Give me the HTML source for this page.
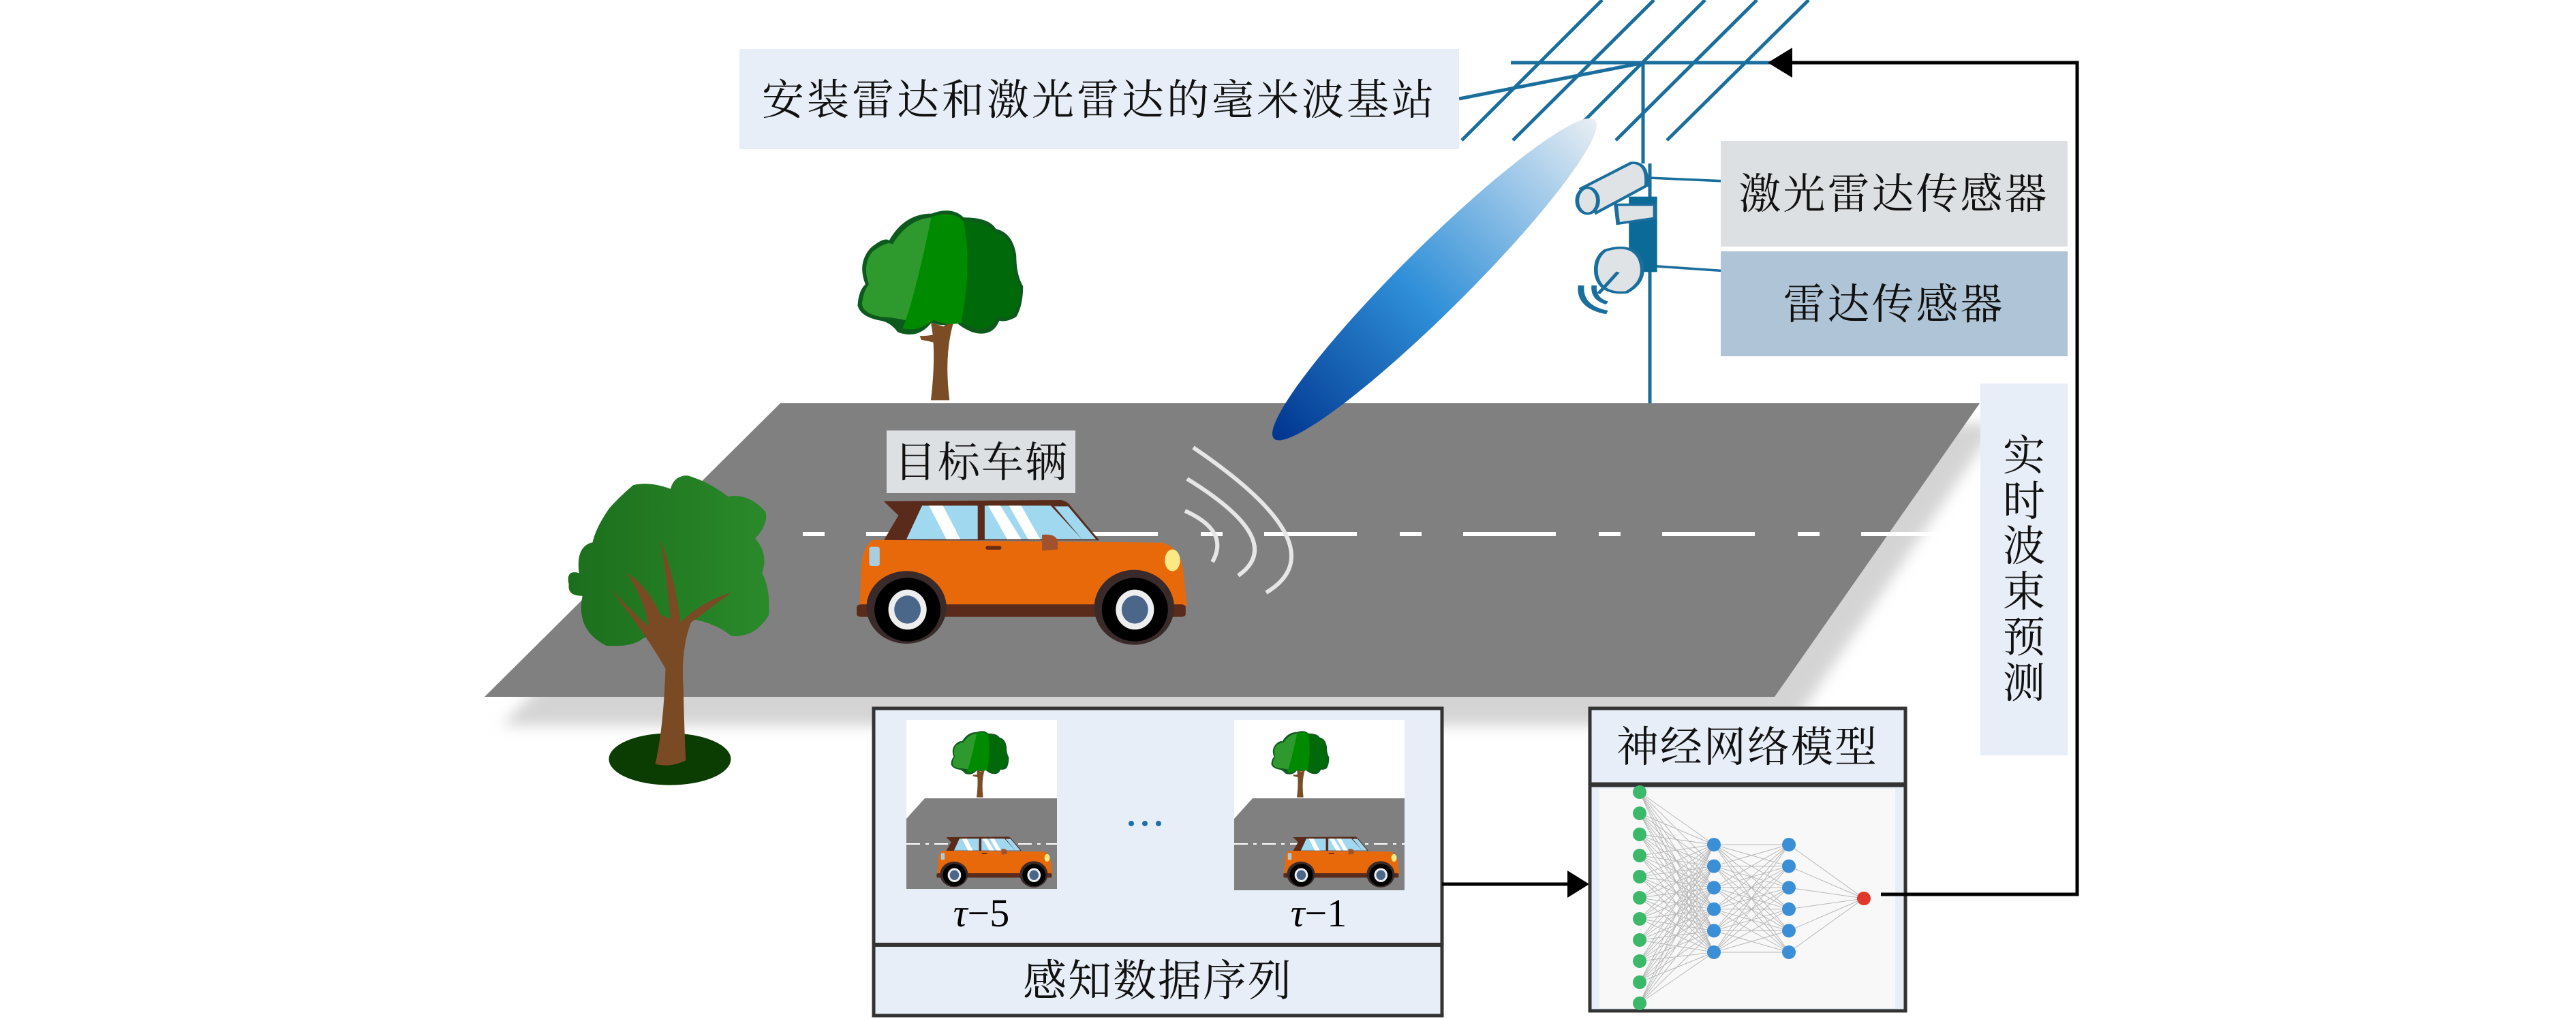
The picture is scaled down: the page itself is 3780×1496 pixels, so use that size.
<!DOCTYPE html>
<html><head><meta charset="utf-8"><style>
html,body{margin:0;padding:0;background:#fff;}
svg{display:block;}
.cj{font-family:"Liberation Serif","Noto Serif CJK SC","Noto Sans CJK SC",serif;fill:#111;}
</style></head><body>
<svg width="3780" height="1496" viewBox="0 0 3780 1496" xmlns="http://www.w3.org/2000/svg">
<defs>
<linearGradient id="beam" x1="0" y1="0" x2="1" y2="0">
<stop offset="0" stop-color="#00358f"/><stop offset="0.45" stop-color="#2f8fd8"/><stop offset="1" stop-color="#e8eef4"/>
</linearGradient>
<linearGradient id="tg2" x1="0" y1="0" x2="1" y2="0">
<stop offset="0" stop-color="#1c6e1c"/><stop offset="1" stop-color="#2a8a2a"/>
</linearGradient>
<filter id="blur" x="-10%" y="-10%" width="120%" height="130%"><feGaussianBlur stdDeviation="10"/></filter>
<clipPath id="c1"><rect x="1330" y="1057" width="221" height="248"/></clipPath>
<clipPath id="c2"><rect x="1811" y="1057" width="250" height="250"/></clipPath>
<g id="car">
<g transform="matrix(0.5102,0,0,0.3333,1200,580)">
<path d="M190,468 L700,462 Q720,470 725,485 L810,640 L190,640 L232,530 Z" fill="#5a2a1a"/>
<polygon points="300,487 460,487 460,635 255,635" fill="#a0d8ef"/>
<polygon points="480,487 670,487 760,635 480,635" fill="#a0d8ef"/>
<polygon points="680,490 720,490 800,635 760,635" fill="#a0d8ef"/>
<polygon points="320,487 360,487 410,635 370,635" fill="#fff"/>
<polygon points="490,487 525,487 585,635 545,635" fill="#fff"/>
<polygon points="550,487 585,487 640,635 605,635" fill="#fff"/>
<path d="M160,638 L990,650 Q1040,670 1050,760 L1062,930 L120,930 L125,760 Q130,660 160,638 Z" fill="#e8690a"/>
<rect x="112" y="922" width="946" height="55" rx="12" fill="#5a2a1a"/>
<ellipse cx="255" cy="935" rx="115" ry="160" fill="#3a2a2a"/>
<ellipse cx="910" cy="935" rx="115" ry="165" fill="#3a2a2a"/>
<ellipse cx="258" cy="945" rx="95" ry="140" fill="#000"/>
<ellipse cx="258" cy="945" rx="55" ry="88" fill="#eee"/>
<ellipse cx="258" cy="945" rx="38" ry="62" fill="#4a6688"/>
<ellipse cx="912" cy="945" rx="95" ry="140" fill="#000"/>
<ellipse cx="912" cy="945" rx="55" ry="88" fill="#eee"/>
<ellipse cx="912" cy="945" rx="38" ry="62" fill="#4a6688"/>
<ellipse cx="1020" cy="728" rx="22" ry="48" fill="#fbe985"/>
<rect x="148" y="668" width="30" height="85" rx="8" fill="#a8cde0"/>
<rect x="483" y="665" width="45" height="16" rx="6" fill="#6b2a14"/>
<path d="M645,615 Q690,610 690,650 L690,680 L645,686 Z" fill="#a0522d"/>
</g>
</g>
<g id="tree1">
<g transform="matrix(0.4974,0,0,0.5612,780,280)">
<path d="M1178,345 Q1195,420 1178,548 L1233,548 Q1215,420 1250,330 L1215,355 Z" fill="#7b4d26"/>
<path d="M1195,375 Q1170,380 1145,380 L1150,390 Q1180,395 1200,400 Z" fill="#7b4d26"/>
<path d="M1000,150 Q1040,120 1055,130 Q1100,60 1180,60 Q1240,40 1275,70 Q1350,70 1370,100 Q1420,110 1430,170 Q1430,220 1450,250 Q1450,300 1430,330 Q1400,345 1380,340 Q1360,385 1300,370 Q1260,355 1250,340 Q1220,360 1180,345 Q1140,390 1080,370 Q1060,345 1030,340 Q970,330 962,300 Q965,260 985,245 Q960,190 1000,150 Z" fill="#0d5a1d"/>
<path d="M1005,160 Q1050,130 1065,140 Q1110,75 1180,70 Q1180,200 1110,340 Q1060,330 1030,330 Q975,320 975,295 Q980,260 995,245 Q975,195 1005,160 Z" fill="#2e9a2e"/>
<path d="M1180,68 Q1240,50 1275,80 Q1300,200 1270,345 Q1230,355 1185,338 Q1140,370 1095,360 Q1130,280 1180,68 Z" fill="#008a00"/>
<path d="M1275,80 Q1345,80 1365,108 Q1415,120 1420,170 Q1420,225 1440,255 Q1440,300 1420,325 Q1390,335 1375,330 Q1355,370 1305,360 Q1270,345 1268,340 Q1300,200 1275,80 Z" fill="#006a0a"/>
</g>
</g>
</defs>

<polygon points="1170,622 2930,622 2630,1065 736,1065" fill="#d4d4d4" filter="url(#blur)"/>
<polygon points="1145,592 2905,592 2604,1023 711,1023" fill="#808080"/>
<line x1="1169" y1="784" x2="2869" y2="784" stroke="#fff" stroke-width="6" stroke-dasharray="136 63 32 61" stroke-dashoffset="190"/>

<g stroke="#1a6e9c" stroke-width="5" fill="none">
<line x1="2351" y1="0" x2="2145" y2="206"/>
<line x1="2427" y1="0" x2="2220" y2="206"/>
<line x1="2502" y1="0" x2="2296" y2="206"/>
<line x1="2578" y1="0" x2="2371" y2="206"/>
<line x1="2654" y1="0" x2="2446" y2="206"/>
<line x1="2217" y1="92" x2="2600" y2="92"/>
<line x1="2141" y1="145" x2="2412" y2="92"/>
<line x1="2411" y1="92" x2="2411" y2="240"/>
<line x1="2421" y1="240" x2="2421" y2="592"/>
</g>

<ellipse cx="2105" cy="410" rx="332" ry="48" fill="url(#beam)" transform="rotate(-44.8 2105 410)"/>

<g transform="matrix(0.6378,0,0,0.3954,2100,0)" stroke="#1a6e9c" stroke-width="9">
<line x1="500" y1="660" x2="667" y2="672"/>
<line x1="485" y1="985" x2="667" y2="1005"/>
<path d="M345,700 L460,605 Q500,600 495,690 L380,790 Z" fill="#dfe3e6"/>
<ellipse cx="360" cy="745" rx="24" ry="48" fill="#dfe3e6"/>
<rect x="455" y="730" width="65" height="280" fill="#0b6a96" stroke="none"/>
<path d="M425,760 L515,760 L515,810 L430,830 Z" fill="#dfe3e6"/>
<path d="M400,930 Q460,900 480,960 Q500,1040 450,1085 Q390,1095 380,1020 Q375,960 400,930 Z" fill="#dfe3e6"/>
<path d="M430,1010 L385,1090" fill="none"/>
<path d="M345,1060 Q340,1140 405,1160" fill="none" stroke-width="14"/>
<path d="M375,1060 Q372,1110 405,1125" fill="none" stroke-width="12"/>
</g>

<g stroke="#e6e6e6" stroke-width="6" fill="none">
<path d="M1739,750 Q1805,780 1779,825"/>
<path d="M1742,703 Q1890,794 1817,845"/>
<path d="M1751,657 Q1968,804 1858,870"/>
</g>

<use href="#tree1"/>
<g transform="matrix(0.4974,0,0,0.5612,780,280)">
<ellipse cx="408" cy="1487" rx="180" ry="68" fill="#0b3d02"/>
<path d="M140,1000 Q100,990 110,1030 Q105,1060 150,1060 Q130,1150 220,1190 Q300,1195 330,1170 Q420,1160 470,1120 Q540,1130 590,1165 Q660,1170 700,1110 Q705,1040 680,1000 Q700,950 660,910 Q700,870 690,840 Q640,790 580,800 Q520,760 460,745 Q420,745 410,780 Q350,760 300,770 Q260,800 230,830 Q190,880 180,920 Q130,930 140,1000 Z" fill="url(#tg2)"/>
<path d="M365,1500 Q390,1400 395,1250 Q330,1150 230,1040 Q320,1120 345,1140 Q330,1060 280,1000 Q340,1030 380,1110 L410,1120 Q400,1020 380,915 Q420,1000 440,1130 Q490,1080 590,1050 Q530,1090 470,1130 Q440,1200 448,1300 Q450,1400 455,1490 Q410,1510 365,1500 Z" fill="#7a4a24"/>
</g>

<use href="#car"/>
<rect x="1301" y="632" width="277" height="92" fill="#dde0e3"/>
<text x="1440" y="700" class="cj" font-size="62" text-anchor="middle" letter-spacing="2">目标车辆</text>

<rect x="1085" y="72" width="1056" height="147" fill="#e8eef8"/>
<text x="1613" y="168" class="cj" font-size="62" text-anchor="middle" letter-spacing="4">安装雷达和激光雷达的毫米波基站</text>

<rect x="2525" y="207" width="509" height="155" fill="#dde0e2"/>
<text x="2779" y="306" class="cj" font-size="62" text-anchor="middle" letter-spacing="3">激光雷达传感器</text>
<rect x="2525" y="369" width="509" height="154" fill="#afc4d6"/>
<text x="2779" y="468" class="cj" font-size="62" text-anchor="middle" letter-spacing="3">雷达传感器</text>

<rect x="2906" y="563" width="128" height="546" fill="#e8eef8"/>
<g class="cj" font-size="62" text-anchor="middle">
<text x="2970" y="690" class="cj">实</text>
<text x="2970" y="757" class="cj">时</text>
<text x="2970" y="823" class="cj">波</text>
<text x="2970" y="890" class="cj">束</text>
<text x="2970" y="957" class="cj">预</text>
<text x="2970" y="1024" class="cj">测</text>
</g>

<polyline points="2773,1313 3048,1313 3048,92 2625,92" fill="none" stroke="#000" stroke-width="5"/>
<polygon points="2594,92 2630,70 2630,114" fill="#000"/>

<rect x="1282" y="1040" width="834" height="451" fill="#e8eef8" stroke="#333" stroke-width="5"/>
<line x1="1282" y1="1387" x2="2116" y2="1387" stroke="#333" stroke-width="6"/>
<text x="1699" y="1462" class="cj" font-size="64" text-anchor="middle" letter-spacing="2">感知数据序列</text>

<g clip-path="url(#c1)">
<rect x="1330" y="1057" width="221" height="248" fill="#fff"/>
<polygon points="1357,1172 1560,1172 1560,1310 1330,1310 1330,1202" fill="#808080"/>
<line x1="1330" y1="1239" x2="1551" y2="1239" stroke="#fff" stroke-width="2" stroke-dasharray="20 8 5 8"/>
<use href="#tree1" transform="translate(955,965) scale(0.35)"/>
<use href="#car" transform="translate(934.4,971.5) scale(0.35)"/>
</g>
<g clip-path="url(#c2)">
<rect x="1811" y="1057" width="250" height="250" fill="#fff"/>
<polygon points="1838,1172 2070,1172 2070,1310 1811,1310 1811,1202" fill="#808080"/>
<line x1="1811" y1="1239" x2="2061" y2="1239" stroke="#fff" stroke-width="2" stroke-dasharray="20 8 5 8"/>
<use href="#tree1" transform="translate(1425,965) scale(0.35)"/>
<use href="#car" transform="translate(1443.4,971.5) scale(0.35)"/>
</g>
<g fill="#1f6fa8"><circle cx="1660" cy="1209" r="4"/><circle cx="1680" cy="1209" r="4"/><circle cx="1700" cy="1209" r="4"/></g>
<text x="1440" y="1360" font-family="Liberation Serif,serif" font-size="58" text-anchor="middle"><tspan font-style="italic">τ</tspan>−5</text>
<text x="1935" y="1360" font-family="Liberation Serif,serif" font-size="58" text-anchor="middle"><tspan font-style="italic">τ</tspan>−1</text>

<line x1="2116" y1="1298" x2="2305" y2="1298" stroke="#000" stroke-width="5"/>
<polygon points="2332,1298 2300,1278 2300,1318" fill="#000"/>

<rect x="2333" y="1040" width="463" height="444" fill="#e8eef8" stroke="#333" stroke-width="5"/>
<line x1="2333" y1="1152" x2="2796" y2="1152" stroke="#333" stroke-width="7"/>
<text x="2564" y="1118" class="cj" font-size="62" text-anchor="middle" letter-spacing="2">神经网络模型</text>
<rect x="2347" y="1158" width="434" height="322" fill="#f8f8f8"/>
<g stroke="#b8b8b8" stroke-width="1">
<path id="nnl" d="" />
</g>
<g id="nn"></g>

<line x1="2760" y1="1313" x2="2800" y2="1313" stroke="#000" stroke-width="5"/>
</svg>
<script>
(function(){
var ns="http://www.w3.org/2000/svg";
var g=document.getElementById("nn");
var inp=[],h1=[],h2=[];
for(var i=0;i<11;i++)inp.push([2406,1163+i*31]);
for(var i=0;i<6;i++){h1.push([2515,1240+i*31.6]);h2.push([2625,1240+i*31.6]);}
var out=[[2735,1319]];
var d="";
function conn(a,b){a.forEach(function(p){b.forEach(function(q){d+="M"+p[0]+" "+p[1]+"L"+q[0]+" "+q[1];});});}
conn(inp,h1);conn(h1,h2);conn(h2,out);
document.getElementById("nnl").setAttribute("d",d);
function dot(p,c){var e=document.createElementNS(ns,"circle");e.setAttribute("cx",p[0]);e.setAttribute("cy",p[1]);e.setAttribute("r",10);e.setAttribute("fill",c);g.appendChild(e);}
inp.forEach(function(p){dot(p,"#3cb86a");});
h1.forEach(function(p){dot(p,"#3a8fd6");});
h2.forEach(function(p){dot(p,"#3a8fd6");});
dot(out[0],"#e0392b");
})();
</script>
</body></html>
